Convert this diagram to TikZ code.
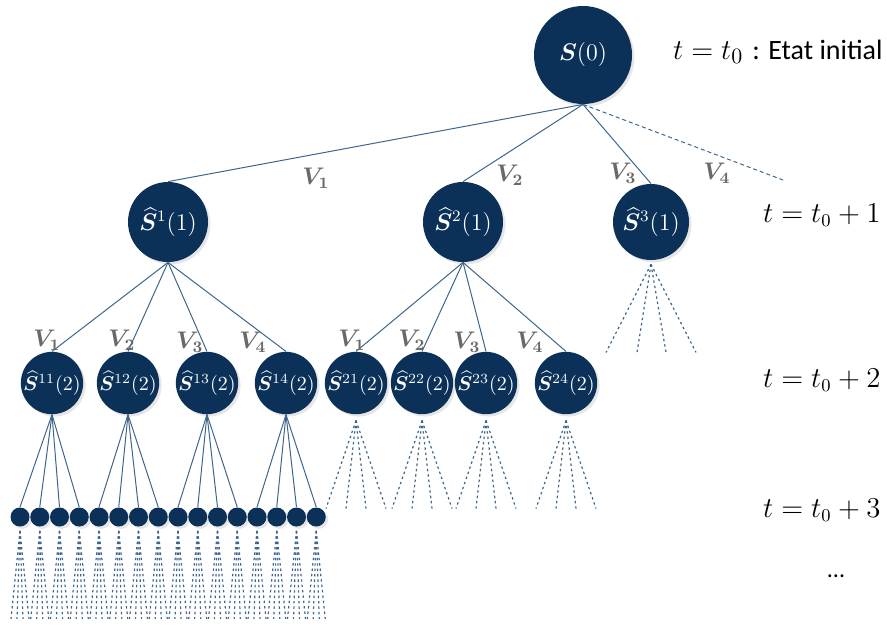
\documentclass[tikz,border=0pt]{standalone}
\usepackage{amsmath,amssymb,bm}
\usepackage{fontspec}
\usepackage{xcolor}
\usepackage{tikz}
\usetikzlibrary{shadows, positioning}
\newfontfamily\calibri{Carlito}
\definecolor{navy}{RGB}{11,49,88}
\definecolor{edgeblue}{RGB}{62,102,140}
\definecolor{vgray}{RGB}{105,105,105}

\begin{document}
\begin{tikzpicture}[x=0.5pt, y=-0.5pt,
    state/.style={fill=navy, circle, inner sep=0pt, text=white,
        drop shadow={opacity=0.2, shadow xshift=1.2pt, shadow yshift=-1.2pt}},
    leaf/.style={state, minimum size=9.5pt},
    branch/.style={draw=edgeblue, line width=0.5pt},
    fan/.style={draw=edgeblue, line width=0.6pt, dash pattern=on 1.2pt off 1.5pt},
    vlabel/.style={text=vgray, font=\fontsize{12}{14}\selectfont},
    timelab/.style={anchor=west, font=\fontsize{13.5}{16}\selectfont}]
        \useasboundingbox (0,0) rectangle (887,626);

        \node[state, minimum size=49pt, font=\fontsize{11.5}{13}\selectfont] (s0) at (583,55) {$\boldsymbol{S}(0)$};

        \node[state, minimum size=40pt, font=\fontsize{11.5}{13}\selectfont] (s1) at (168,222) {$\widehat{\boldsymbol{S}}^{1}(1)$};
        \node[state, minimum size=40pt, font=\fontsize{11.5}{13}\selectfont] (s2) at (463,222) {$\widehat{\boldsymbol{S}}^{2}(1)$};
        \node[state, minimum size=38pt, font=\fontsize{11.5}{13}\selectfont] (s3) at (651,222) {$\widehat{\boldsymbol{S}}^{3}(1)$};

        \foreach \name/\x in {11/52,12/128,13/207,14/286,21/356,22/422,23/486,24/566}
            \node[state, minimum size=30pt, font=\fontsize{10}{12}\selectfont] (s\name) at (\x,383) {$\widehat{\boldsymbol{S}}^{\name}(2)$};

        \foreach \i in {0,...,15}
            \node[leaf] (d\i) at ({20+19.75*\i},517) {};

        \coordinate (v4end) at (783,180);
        \foreach \to in {s1,s2,s3} \draw[branch] (s0.south) -- (\to.north);
        \draw[branch, dash pattern=on 2pt off 1.5pt] (s0.south) -- (v4end);

        \foreach \from/\to in
        {s1/s11,s1/s12,s1/s13,s1/s14,s2/s21,s2/s22,s2/s23,s2/s24} \draw[branch] (\from.south) -- (\to.north);

        \foreach \from/\k in {s11/0,s12/1,s13/2,s14/3} {
            \foreach \j in {0,...,3} {
                \pgfmathtruncatemacro\n{4*\k+\j}
                \draw[branch] (\from.south) -- (d\n.north);
            }
        }

        \foreach \dx in {-45,-14,15,45} \draw[fan] (s3.south) ++(0,4) -- ++(\dx,88);
        \foreach \from in {s21,s22,s23,s24}
            \foreach \dx in {-30,-10,10,30} \draw[fan] (\from.south) ++(0,6) -- ++(\dx,88);
        \foreach \i in {0,...,15}
            \foreach \dx in {-9,-3,3,9} \draw[fan] (d\i.south) ++(0,4) -- ++(\dx,88);

        \node[vlabel] (va) at (316,178) {$\boldsymbol{V_1}$};
        \node[vlabel] (vb) at (510,175) {$\boldsymbol{V_2}$};
        \node[vlabel] (vc) at (623,173) {$\boldsymbol{V_3}$};
        \node[vlabel] (vd) at (717,173) {$\boldsymbol{V_4}$};

        \node[vlabel] (va1) at (47,340) {$\boldsymbol{V_1}$};
        \node[vlabel] (vb1) at (122,340) {$\boldsymbol{V_2}$};
        \node[vlabel] (vc1) at (190,342) {$\boldsymbol{V_3}$};
        \node[vlabel] (vd1) at (253,342) {$\boldsymbol{V_4}$};
        \node[vlabel] (va2) at (352,340) {$\boldsymbol{V_1}$};
        \node[vlabel] (vb2) at (412,340) {$\boldsymbol{V_2}$};
        \node[vlabel] (vc2) at (467,342) {$\boldsymbol{V_3}$};
        \node[vlabel] (vd2) at (530,342) {$\boldsymbol{V_4}$};

        \node[timelab, font=\fontsize{15}{18}\selectfont] (t0) at (666,52) {$t=t_0$ {\calibri\fontsize{14}{16}\selectfont : Etat initial}};
        \node[timelab] (t1) at (756,215) {$t=t_0+1$};
        \node[timelab] (t2) at (756,380) {$t=t_0+2$};
        \node[timelab] (t3) at (756,510) {$t=t_0+3$};
        \node (tdots) at (836,576) {\calibri\fontsize{12}{14}\selectfont ...};
\end{tikzpicture}
\end{document}
